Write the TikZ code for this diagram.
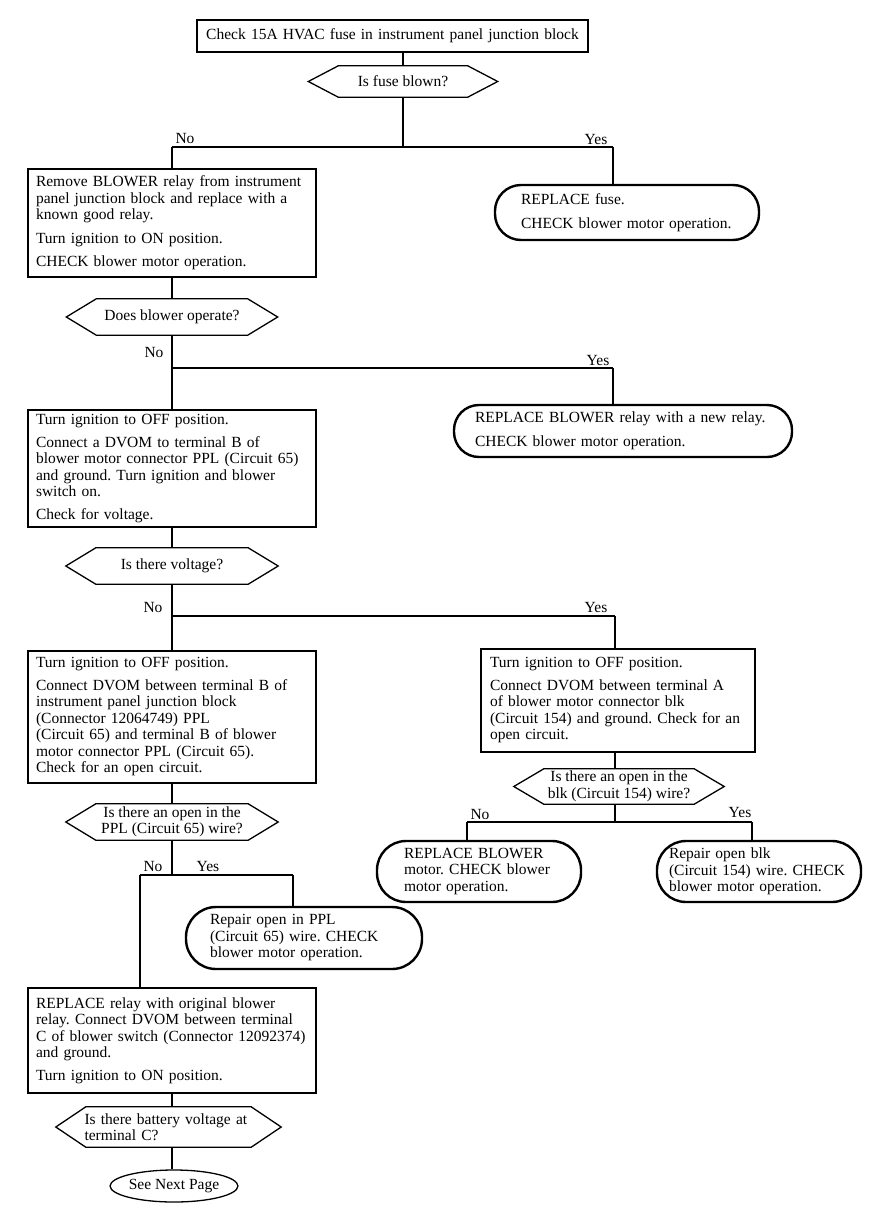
\documentclass[tikz,border=0pt]{standalone}
\usepackage{fontspec}
\setmainfont{Liberation Serif}
\usetikzlibrary{shapes.geometric,positioning}
\newcommand{\chartfont}{\fontsize{15.5}{16.5}\selectfont\frenchspacing}

\begin{document}
\begin{tikzpicture}[x=1pt,y=-1pt]
\tikzset{
  actbox/.style={rectangle,draw=black,line width=1.3pt,align=left,inner xsep=8pt,inner ysep=2pt,text width=272pt,font=\chartfont},
  askhex/.style={rectangle,align=center,inner sep=0pt,font=\chartfont},
  hexline/.style={draw=black,line width=1.3pt,line join=miter},
  endcap/.style={rectangle,draw=black,line width=2.4pt,align=left,inner sep=0pt,font=\chartfont},
  brlabel/.style={inner sep=0pt,font=\chartfont},
  flow/.style={draw=black,line width=1.1pt}
}
\useasboundingbox (0,0) rectangle (880,1218);

% steps down the left side
\node[actbox,text width=375pt,align=center,minimum height=32pt] (n_fuse) at (392.5,36) {Check 15A HVAC fuse in instrument panel junction block};
\node[askhex,minimum width=189pt,minimum height=31pt] (n_blown) at (403,81.5) {Is fuse blown?};
\node[actbox,minimum height=108pt] (n_relay) at (172,223) {Remove BLOWER relay from instrument\\panel junction block and replace with a\\known good relay.\\[7pt]Turn ignition to ON position.\\[7pt]CHECK blower motor operation.};
\node[askhex,minimum width=211pt,minimum height=36pt] (n_operate) at (172,317) {Does blower operate?};
\node[actbox,minimum height=117pt] (n_volt) at (172,468.5) {Turn ignition to OFF position.\\[6pt]Connect a DVOM to terminal B of\\blower motor connector PPL (Circuit 65)\\and ground. Turn ignition and blower\\switch on.\\[6pt]Check for voltage.};
\node[askhex,minimum width=212pt,minimum height=36pt] (n_isvolt) at (172,566) {Is there voltage?};
\node[actbox,minimum height=132pt] (n_ppl) at (172,717) {Turn ignition to OFF position.\\[6pt]Connect DVOM between terminal B of\\instrument panel junction block\\(Connector 12064749) PPL\\(Circuit 65) and terminal B of blower\\motor connector PPL (Circuit 65).\\Check for an open circuit.};
\node[askhex,minimum width=212pt,minimum height=36pt] (n_isppl) at (172,822) {Is there an open in the\\PPL (Circuit 65) wire?};
\node[actbox,minimum height=105pt] (n_switch) at (172,1040.5) {REPLACE relay with original blower\\relay. Connect DVOM between terminal\\C of blower switch (Connector 12092374)\\and ground.\\[6pt]Turn ignition to ON position.};
\node[askhex,minimum width=225pt,minimum height=40pt,text width=168pt,align=left] (n_isbatt) at (168.5,1127) {Is there battery voltage at\\terminal C?};
\node[ellipse,draw=black,line width=1.3pt,minimum width=116pt,minimum height=32pt,inner sep=0pt,font=\chartfont] (n_next) at (174,1186) {See Next Page};

% steps on the right side
\node[actbox,text width=256pt,inner xsep=9pt,minimum height=103pt] (n_blk) at (618,700.5) {Turn ignition to OFF position.\\[6pt]Connect DVOM between terminal A\\of blower motor connector blk\\(Circuit 154) and ground. Check for an\\open circuit.};
\node[askhex,minimum width=210pt,minimum height=35pt] (n_isblk) at (619,786.5) {Is there an open in the\\blk (Circuit 154) wire?};

% hexagon outlines of the questions
\foreach \q in {n_blown,n_operate,n_isvolt,n_isppl,n_isblk,n_isbatt}
  \draw[hexline] (\q.west) -- ([xshift=30pt]\q.north west) -- ([xshift=-30pt]\q.north east)
    -- (\q.east) -- ([xshift=-30pt]\q.south east) -- ([xshift=30pt]\q.south west) -- cycle;

% end boxes
\node[endcap,text width=212pt,minimum width=264pt,minimum height=55pt,rounded corners=26pt] (n_newfuse) at (627,212.5) {REPLACE fuse.\\[7pt]CHECK blower motor operation.};
\node[endcap,text width=296pt,minimum width=338pt,minimum height=52pt,rounded corners=25pt] (n_newrelay) at (623,431) {REPLACE BLOWER relay with a new relay.\\[7pt]CHECK blower motor operation.};
\node[endcap,text width=150pt,minimum width=204pt,minimum height=61pt,rounded corners=29pt] (n_motor) at (479,871.5) {REPLACE BLOWER\\motor. CHECK blower\\motor operation.};
\node[endcap,text width=180pt,minimum width=204pt,minimum height=61pt,rounded corners=29pt] (n_fixblk) at (759,871.5) {Repair open blk\\(Circuit 154) wire. CHECK\\blower motor operation.};
\node[endcap,text width=188pt,minimum width=236pt,minimum height=62pt,rounded corners=30pt] (n_fixppl) at (304,938) {Repair open in PPL\\(Circuit 65) wire. CHECK\\blower motor operation.};

% branch points
\coordinate (j_blown) at (403,147);
\coordinate (j_blown_no) at (172,147);
\coordinate (j_blown_yes) at (613,147);
\coordinate (j_operate_no) at (172,368);
\coordinate (j_operate_yes) at (613,368);
\coordinate (j_isvolt_no) at (172,616);
\coordinate (j_isvolt_yes) at (615,616);
\coordinate (j_isblk) at (615,822);
\coordinate (j_isblk_no) at (467,822);
\coordinate (j_isblk_yes) at (752,822);
\coordinate (j_isppl) at (172,875);
\coordinate (j_isppl_no) at (140,875);
\coordinate (j_isppl_yes) at (293,875);

% connectors
\draw[flow] (n_fuse.south -| n_blown.north) -- (n_blown.north);
\draw[flow] (n_blown.south) -- (j_blown);
\draw[flow] (j_blown_no) -- (j_blown_yes);
\draw[flow] (j_blown_no) -- (n_relay.north);
\draw[flow] (j_blown_yes) -- (j_blown_yes |- n_newfuse.north);
\draw[flow] (n_relay.south) -- (n_operate.north);
\draw[flow] (n_operate.south) -- (n_volt.north);
\draw[flow] (j_operate_no) -- (j_operate_yes);
\draw[flow] (j_operate_yes) -- (j_operate_yes |- n_newrelay.north);
\draw[flow] (n_volt.south) -- (n_isvolt.north);
\draw[flow] (n_isvolt.south) -- (n_ppl.north);
\draw[flow] (j_isvolt_no) -- (j_isvolt_yes);
\draw[flow] (j_isvolt_yes) -- (j_isvolt_yes |- n_blk.north);
\draw[flow] (n_blk.south -| j_isblk) -- (n_isblk.north -| j_isblk);
\draw[flow] (n_isblk.south -| j_isblk) -- (j_isblk);
\draw[flow] (j_isblk_no) -- (j_isblk_yes);
\draw[flow] (j_isblk_no) -- (j_isblk_no |- n_motor.north);
\draw[flow] (j_isblk_yes) -- (j_isblk_yes |- n_fixblk.north);
\draw[flow] (n_ppl.south) -- (n_isppl.north);
\draw[flow] (n_isppl.south) -- (j_isppl);
\draw[flow] (j_isppl_no) -- (j_isppl_yes);
\draw[flow] (j_isppl_no) -- (j_isppl_no |- n_switch.north);
\draw[flow] (j_isppl_yes) -- (j_isppl_yes |- n_fixppl.north);
\draw[flow] (n_switch.south -| n_relay.south) -- (n_isbatt.north -| n_relay.south);
\draw[flow] (n_isbatt.south -| n_relay.south) -- (n_next.north -| n_relay.south);

% branch labels
\node[brlabel] (l_blown_no) at (185,138) {No};
\node[brlabel] (l_blown_yes) at (596,139) {Yes};
\node[brlabel] (l_operate_no) at (154,352) {No};
\node[brlabel] (l_operate_yes) at (598,360) {Yes};
\node[brlabel] (l_isvolt_no) at (153,607) {No};
\node[brlabel] (l_isvolt_yes) at (596,607) {Yes};
\node[brlabel] (l_isblk_no) at (480,814) {No};
\node[brlabel] (l_isblk_yes) at (740,812) {Yes};
\node[brlabel] (l_isppl_no) at (153,866) {No};
\node[brlabel] (l_isppl_yes) at (208,866) {Yes};
\end{tikzpicture}
\end{document}
